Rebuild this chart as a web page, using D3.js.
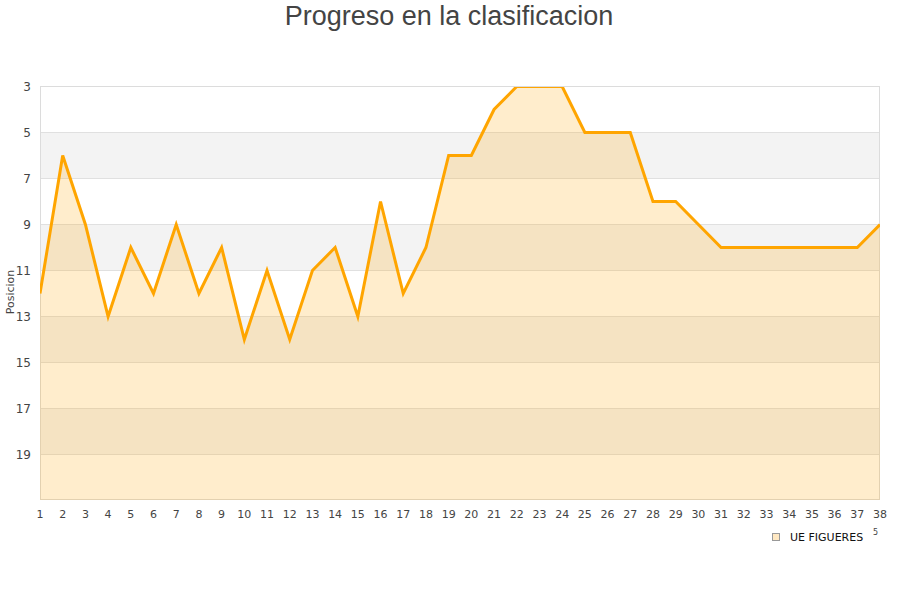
<!DOCTYPE html>
<html><head><meta charset="utf-8">
<script src="https://cdn.jsdelivr.net/npm/d3@7"></script>
<style>body{margin:0;background:#fff}svg{display:block}</style>
</head><body>
<script>
const rounds = d3.range(1, 39);
const positions = [12,6,9,13,10,12,9,12,10,14,11,14,11,10,13,8,12,10,6,6,4,3,3,3,5,5,5,8,8,9,10,10,10,10,10,10,10,9];
const yTicks = [3,5,7,9,11,13,15,17,19];
const seriesName = "UE FIGUERES";
const titleText = "Progreso en la clasificacion";
const yTitle = "Posicion";

const W = 900, H = 600;
const L = 40, R = 880, T = 86, B = 500;
const svg = d3.select("body").append("svg").attr("width", W).attr("height", H);
const x = d3.scaleLinear().domain([1, 38]).range([L, R]);
const y = d3.scaleLinear().domain([3, 21]).range([T, B]);

// bands
const bands = [5, 9, 13, 17];
svg.append("g").selectAll("rect").data(bands).join("rect")
  .attr("x", L).attr("width", R - L)
  .attr("y", d => y(d)).attr("height", d => y(d + 2) - y(d))
  .attr("fill", "#f3f3f3");

// grid
svg.append("g").selectAll("line").data(yTicks.slice(1)).join("line")
  .attr("x1", L).attr("x2", R).attr("y1", d => y(d) + 0.5).attr("y2", d => y(d) + 0.5)
  .attr("stroke", "#e0e0e0").attr("stroke-width", 1);

// border
svg.append("rect").attr("x", L + 0.5).attr("y", T + 0.5).attr("width", R - L - 1).attr("height", B - T - 1)
  .attr("fill", "none").attr("stroke", "#dcdcdc");

svg.append("clipPath").attr("id", "clip").append("rect")
  .attr("x", L).attr("y", T + 1).attr("width", R - L).attr("height", B - T - 1);

const data = rounds.map((r, i) => ({r, v: positions[i]}));
const g = svg.append("g").attr("clip-path", "url(#clip)");
g.append("path").datum(data)
  .attr("d", d3.area().x(d => x(d.r)).y0(B).y1(d => y(d.v)))
  .attr("fill", "rgba(255,165,0,0.2)");
g.append("path").datum(data)
  .attr("d", d3.line().x(d => x(d.r)).y(d => y(d.v) + 0.5))
  .attr("fill", "none").attr("stroke", "#ffa500").attr("stroke-width", 3)
  .attr("stroke-linejoin", "miter");

// y axis labels
svg.append("g").selectAll("text").data(yTicks).join("text")
  .attr("x", 31).attr("y", d => y(d) + 4.5).attr("text-anchor", "end")
  .attr("font-family", "DejaVu Sans").attr("font-size", 12).attr("fill", "#444")
  .text(d => d);

// x axis labels
svg.append("g").selectAll("text").data(rounds).join("text")
  .attr("x", d => x(d)).attr("y", 518).attr("text-anchor", "middle")
  .attr("font-family", "DejaVu Sans").attr("font-size", 11).attr("fill", "#444")
  .text(d => d);

// y title
svg.append("text").attr("transform", "translate(14,292) rotate(-90)")
  .attr("text-anchor", "middle").attr("font-family", "DejaVu Sans").attr("font-size", 11).attr("fill", "#444")
  .text(yTitle);

// title
svg.append("text").attr("x", 449).attr("y", 25).attr("text-anchor", "middle")
  .attr("font-family", "Liberation Sans, Arial").attr("font-size", 27).attr("fill", "#444")
  .text(titleText);

// legend
svg.append("rect").attr("x", 772.5).attr("y", 533.5).attr("width", 7).attr("height", 7)
  .attr("fill", "#ffe8c2").attr("stroke", "#999");
svg.append("text").attr("x", 790).attr("y", 541).attr("font-family", "DejaVu Sans")
  .attr("font-size", 11).attr("fill", "#111").text(seriesName);
svg.append("text").attr("x", 873).attr("y", 535).attr("font-family", "DejaVu Sans")
  .attr("font-size", 8).attr("fill", "#444").text("5");
</script>
</body></html>
